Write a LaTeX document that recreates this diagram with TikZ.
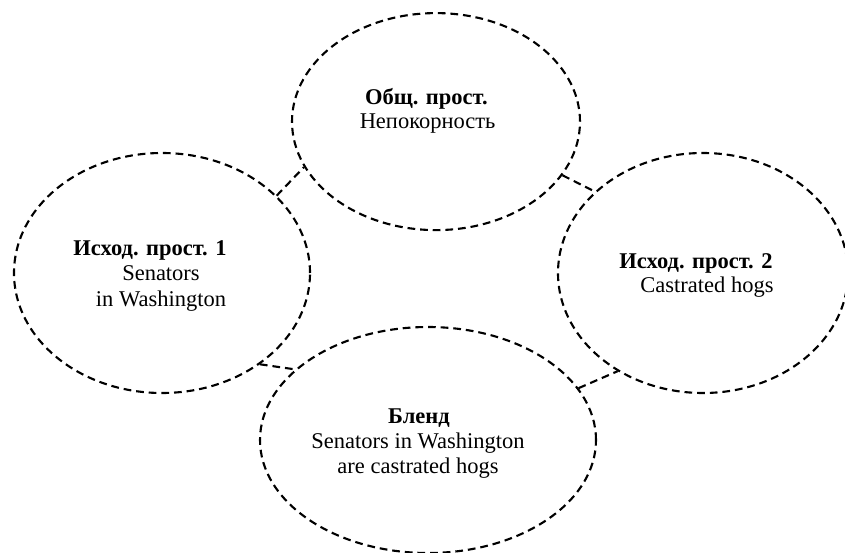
\documentclass[tikz,border=0pt]{standalone}
\usepackage{fontspec}
\setmainfont{Liberation Serif}
\usepackage{tikz}
\usetikzlibrary{shapes.geometric}
\tikzset{%
    space/.style={%
        ellipse, draw, line width=1.5pt, dash pattern=on 5.5pt off 3.5pt,
        inner sep=0pt
    },
    link/.style={%
        line width=1.5pt, dash pattern=on 5.5pt off 3.5pt
    },
    txt/.style={%
        anchor=base, inner sep=0pt, font=\fontsize{16}{17.8}\selectfont
    }
}

\begin{document}
\begin{tikzpicture}
    \useasboundingbox (0,0) rectangle (21.125,-13.825);
    % mental spaces
    \node[space, minimum width=7.2cm, minimum height=5.425cm] (T) at (10.9,-3.04) {};
    \node[space, minimum width=7.4cm, minimum height=6cm] (L) at (4.05,-6.825) {};
    \node[space, minimum width=7.25cm, minimum height=6cm] (R) at (17.575,-6.825) {};
    \node[space, minimum width=8.4cm, minimum height=5.65cm] (B) at (10.7,-11) {};
    % links
    \draw[link] (L.34.5) -- (T.199.5);
    \draw[link] (T.337.8) -- (R.143.1);
    \draw[link] (L.317) -- (B.152.4);
    \draw[link] (B.19.9) -- (R.229.4);
    % texts
    \node[txt] (Ttitle) at (10.66,-2.6) {\textbf{Общ. прост.}};
    \node[txt] (Ttext) at (10.69,-3.2) {Непокорность};
    \node[txt] (Ltitle) at (3.75,-6.375) {\textbf{Исход. прост. 1}};
    \node[txt] (Ltext1) at (4.025,-7.0) {Senators};
    \node[txt] (Ltext2) at (4.025,-7.65) {in Washington};
    \node[txt] (Rtitle) at (17.4,-6.7) {\textbf{Исход. прост. 2}};
    \node[txt] (Rtext) at (17.675,-7.3) {Castrated hogs};
    \node[txt] (Btitle) at (10.475,-10.575) {\textbf{Бленд}};
    \node[txt] (Btext1) at (10.45,-11.2) {Senators in Washington};
    \node[txt] (Btext2) at (10.45,-11.825) {are castrated hogs};
\end{tikzpicture}
\end{document}
